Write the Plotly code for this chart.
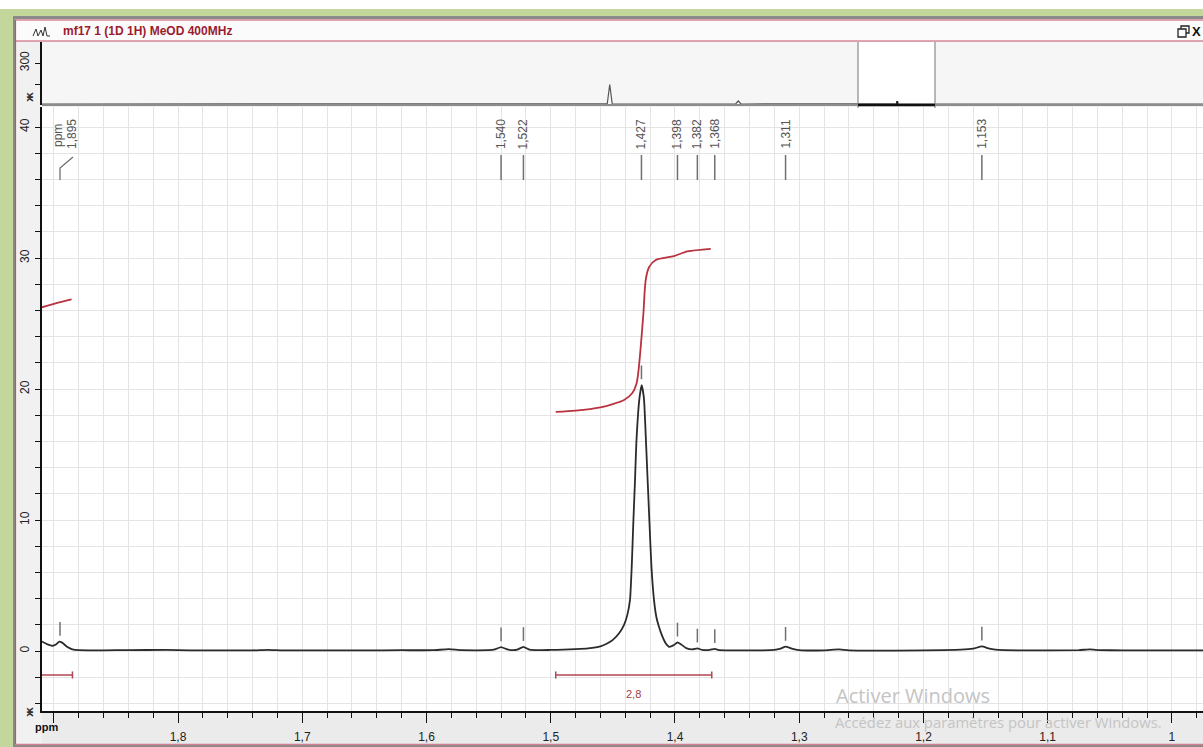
import plotly.graph_objects as go

W, H = 1203, 747

# ---- 1H spectrum, zoomed window (ppm, intensity) ----
ppm = [1.9095, 1.905, 1.901, 1.898, 1.8955, 1.893, 1.889, 1.885, 1.880, 1.86,
       1.84, 1.81, 1.79, 1.74, 1.728, 1.715, 1.65, 1.62, 1.595, 1.582, 1.572,
       1.55, 1.545, 1.540, 1.535, 1.530, 1.527, 1.522, 1.517, 1.510, 1.50,
       1.49, 1.48, 1.47, 1.46, 1.455, 1.450, 1.445, 1.441, 1.4385, 1.4362,
       1.4348, 1.4335, 1.4322, 1.4311, 1.4286, 1.4268, 1.4250, 1.4233, 1.4220,
       1.4206, 1.4190, 1.4169, 1.4150, 1.4129, 1.4105, 1.4075, 1.4045, 1.401,
       1.398, 1.395, 1.391, 1.386, 1.382, 1.378, 1.372, 1.368, 1.364, 1.35,
       1.32, 1.315, 1.311, 1.306, 1.300, 1.28, 1.268, 1.26, 1.20, 1.17, 1.16,
       1.153, 1.147, 1.14, 1.12, 1.075, 1.066, 1.058, 1.04, 0.975]
intensity = [0.72, 0.50, 0.40, 0.52, 0.72, 0.62, 0.30, 0.12, 0.06, 0.05,
             0.07, 0.08, 0.05, 0.05, 0.09, 0.05, 0.05, 0.06, 0.06, 0.14, 0.06,
             0.06, 0.12, 0.30, 0.12, 0.06, 0.10, 0.32, 0.10, 0.06, 0.08,
             0.10, 0.14, 0.20, 0.35, 0.55, 0.85, 1.35, 2.0, 2.7, 3.9,
             6.5, 9.9, 13.0, 15.9, 19.3, 20.3, 19.3, 15.9, 13.0,
             9.9, 6.5, 3.9, 2.6, 1.85, 1.2, 0.6, 0.32, 0.45,
             0.66, 0.50, 0.22, 0.12, 0.20, 0.08, 0.08, 0.16, 0.07, 0.05,
             0.08, 0.18, 0.33, 0.18, 0.07, 0.05, 0.12, 0.05, 0.05, 0.10, 0.18,
             0.35, 0.18, 0.08, 0.05, 0.07, 0.12, 0.07, 0.05, 0.05]

# ---- picked peaks ----
peak_ppm = [1.895, 1.540, 1.522, 1.427, 1.398, 1.382, 1.368, 1.311, 1.153]
peak_height = [0.72, 0.30, 0.32, 20.3, 0.66, 0.20, 0.16, 0.33, 0.35]

# ---- integral curves (ppm, running integral) ----
int1_ppm = [1.9095, 1.8965, 1.8857]
int1_val = [26.24, 26.6, 26.85]
int2_ppm = [1.496, 1.48, 1.46, 1.45, 1.441, 1.4343, 1.431, 1.4295, 1.4276,
            1.4254, 1.4236, 1.4209, 1.4155, 1.4008, 1.390, 1.3712]
int2_val = [18.25, 18.35, 18.6, 18.85, 19.16, 19.7, 20.4, 21.3, 23.2,
            25.8, 28.3, 29.3, 29.85, 30.15, 30.5, 30.7]

# ---- integral regions and values ----
region_from = [1.93, 1.496]
region_to = [1.885, 1.3704]
region_value = [None, 2.8]

# ---- full-range overview spectrum ----
ov_ppm = [11.81, 6.0, 5.0, 4.95, 4.92, 4.89, 4.84, 3.45, 3.39, 3.36, 3.33,
          3.27, 1.46, 1.435, 1.427, 1.419, 1.39, -2.28]
ov_val = [0, 0, 0, 2, 143, 2, 0, 0, 2, 22, 2, 0, 0, 2, 20, 2, 0, 0]

x_range = [1.9095, 0.975]
y_range = [-4.58, 41.53]
ov_x_range = [11.81, -2.28]
ov_y_range = [-7.3, 453.7]

x_ticks = [1.9, 1.8, 1.7, 1.6, 1.5, 1.4, 1.3, 1.2, 1.1, 1.0]
y_ticks = [0, 10, 20, 30, 40]

SPEC = "#2b2b2b"
RED = "#b8323f"
FONT = "Liberation Sans"


def px(x):
    return x / W


def py(y):
    return 1 - y / H


def fmt(v, nd):
    s = f"{v:.{nd}f}".rstrip("0").rstrip(".") if nd == 1 else f"{v:.{nd}f}"
    return s.replace(".", ",")


fig = go.Figure()

# spectrum
fig.add_trace(go.Scatter(x=ppm, y=intensity, mode="lines",
                         line=dict(color=SPEC, width=1.8, shape="spline", smoothing=0.45),
                         xaxis="x", yaxis="y", hoverinfo="skip"))

# integral curves
for xs, ys in [(int1_ppm, int1_val), (int2_ppm, int2_val)]:
    fig.add_trace(go.Scatter(x=xs, y=ys, mode="lines",
                             line=dict(color=RED, width=1.8, shape="spline", smoothing=0.8),
                             xaxis="x", yaxis="y", hoverinfo="skip"))

# peak markers just above each picked peak
mx, my = [], []
for p, h in zip(peak_ppm, peak_height):
    mx += [p, p, None]
    my += [h + 0.45, h + 1.5, None]
fig.add_trace(go.Scatter(x=mx, y=my, mode="lines", line=dict(color="#707070", width=1.5),
                         xaxis="x", yaxis="y", hoverinfo="skip"))

# integral bars
bar_y, cap = -1.83, 0.27
for a, b, v in zip(region_from, region_to, region_value):
    fig.add_trace(go.Scatter(x=[a, a, None, a, b, None, b, b],
                             y=[bar_y - cap, bar_y + cap, None, bar_y, bar_y, None,
                                bar_y - cap, bar_y + cap],
                             mode="lines", line=dict(color="#b04652", width=1.5),
                             xaxis="x", yaxis="y", hoverinfo="skip"))

# overview spectrum
fig.add_trace(go.Scatter(x=ov_ppm, y=ov_val, mode="lines", line=dict(color="#555555", width=1.2),
                         xaxis="x2", yaxis="y2", hoverinfo="skip"))

shapes = []
ann = []

def rect(x0, y0, x1, y1, fill, line=None, lw=0, layer="below"):
    shapes.append(dict(type="rect", xref="paper", yref="paper",
                       x0=px(x0), x1=px(x1), y0=py(y1), y1=py(y0),
                       fillcolor=fill, line=dict(color=line or fill, width=lw), layer=layer))

def hline(x0, x1, y, color, w, layer="above"):
    shapes.append(dict(type="line", xref="paper", yref="paper", x0=px(x0), x1=px(x1),
                       y0=py(y), y1=py(y), line=dict(color=color, width=w), layer=layer))

def vline(x, y0, y1, color, w, layer="above"):
    shapes.append(dict(type="line", xref="paper", yref="paper", x0=px(x), x1=px(x),
                       y0=py(y0), y1=py(y1), line=dict(color=color, width=w), layer=layer))

# window frame
rect(-5, 9, 1215, 760, "#c3d69b")
rect(13, 16, 1215, 760, "#8a8a8a")
rect(15, 19, 1215, 745, "#f1f1f1")
rect(15, 20, 1215, 41, "#fbfbfb")
hline(15, 1215, 20, "#c8506a", 1.2)
hline(15, 1215, 41, "#c8506a", 1.2)
vline(15.5, 20, 745, "#c8506a", 1.2)
hline(15, 1215, 744.5, "#d08090", 1.5)
# overview strip
rect(42, 42, 1215, 105, "#f6f6f6")
rect(858, 42, 935, 106, "#ffffff")
# main plot and bottom axis band
rect(42, 107, 1215, 711, "#ffffff")
rect(42, 711, 1215, 744, "#ebebeb")

vline(858, 42, 108, "#8a8a8a", 1.2)
vline(935, 42, 108, "#8a8a8a", 1.2)
hline(42, 1215, 105, "#8c8c8c", 2)
hline(858, 935, 105, "#111111", 2.5)
vline(897, 101, 105, "#111111", 1.5)

# title bar icon: tiny spectrum glyph
shapes.append(dict(type="path", xref="paper", yref="paper",
                   path=("M {} {} L {} {} L {} {} L {} {} L {} {} L {} {} L {} {} L {} {}".format(
                       px(33), py(36), px(36), py(29), px(38), py(36), px(41), py(30),
                       px(43), py(36), px(45), py(27), px(47), py(36), px(50), py(36))),
                   line=dict(color="#333333", width=1)))
# window buttons
rect(1181, 26, 1189, 33, "rgba(0,0,0,0)", "#222222", 1.3, layer="above")
rect(1178, 29, 1186, 37, "#fbfbfb", "#222222", 1.3, layer="above")
ann.append(dict(text="<b>X</b>", x=px(1190), y=py(31.5), xref="paper", yref="paper",
                xanchor="left", yanchor="middle", showarrow=False,
                font=dict(family=FONT, size=13, color="#111111")))

ann.append(dict(text="<b>mf17 1 (1D 1H) MeOD 400MHz</b>", x=px(61), y=py(31), xref="paper",
                yref="paper", xanchor="left", yanchor="middle", showarrow=False,
                font=dict(family=FONT, size=12, color="#9b1b30")))

# peak labels along the top
lab_top, lab_bot = 155, 180
for p in peak_ppm:
    txt = fmt(p, 3)
    if p == peak_ppm[0]:
        shift = 12
        shapes.append(dict(type="path", xref="x", yref="paper",
                           path="M {} {} L {} {} L {} {}".format(
                               p, py(lab_bot), p, py(168), p - 13 / 1242.5, py(157)),
                           line=dict(color="#707070", width=1.3)))
    else:
        shift = 0
        shapes.append(dict(type="line", xref="x", yref="paper", x0=p, x1=p,
                           y0=py(lab_bot), y1=py(lab_top), line=dict(color="#707070", width=1.5)))
    ann.append(dict(text=txt, x=p, y=py(134), xref="x", yref="paper", xshift=shift,
                    textangle=-90, showarrow=False, xanchor="center", yanchor="middle",
                    font=dict(family=FONT, size=12, color="#555555")))
ann.append(dict(text="ppm", x=px(58), y=py(136), xref="paper", yref="paper", textangle=-90,
                xanchor="center", yanchor="middle", showarrow=False,
                font=dict(family=FONT, size=12, color="#555555")))

# integral values
for a, b, v in zip(region_from, region_to, region_value):
    if v is not None:
        ann.append(dict(text=fmt(v, 1), x=(a + b) / 2, y=-3.3, xref="x", yref="y",
                        showarrow=False, font=dict(family=FONT, size=11, color="#a0404a")))

# axis corner labels
ann.append(dict(text="<b>ppm</b>", x=px(46), y=py(727), xref="paper", yref="paper",
                xanchor="center", yanchor="middle", showarrow=False,
                font=dict(family=FONT, size=11, color="#111111")))
for yy in (97, 712):
    ann.append(dict(text="<b>ж</b>", x=px(29), y=py(yy), xref="paper", yref="paper",
                    xanchor="center", yanchor="middle", textangle=-90, showarrow=False,
                    font=dict(family="DejaVu Sans", size=10, color="#333333")))

# activation watermark
ann.append(dict(text="Activer Windows", x=px(834), y=py(695), xref="paper", yref="paper",
                xanchor="left", yanchor="middle", showarrow=False,
                font=dict(family="Open Sans", size=20, color="#c4c4c4")))
ann.append(dict(text="Accédez aux paramètres pour activer Windows.", x=px(833), y=py(722),
                xref="paper", yref="paper", xanchor="left", yanchor="middle", showarrow=False,
                font=dict(family="Open Sans", size=14.8, color="#c4c4c4")))

grid = "#e4e4e4"
fig.update_layout(
    width=W, height=H, margin=dict(l=0, r=0, t=0, b=0),
    paper_bgcolor="#ffffff", plot_bgcolor="rgba(0,0,0,0)",
    showlegend=False, separators=", ",
    shapes=shapes, annotations=ann,
    xaxis=dict(domain=[px(42), 1], range=x_range, anchor="y",
               tickvals=x_ticks, ticktext=["" if t == 1.9 else fmt(t, 1) for t in x_ticks],
               ticks="outside", ticklen=10, tickwidth=1, tickcolor="#111111",
               showline=True, linecolor="#111111", linewidth=1.5,
               showgrid=True, gridcolor=grid, gridwidth=1, zeroline=False,
               ticklabelstandoff=4,
               tickfont=dict(family=FONT, size=12, color="#222222"),
               minor=dict(dtick=0.02, ticks="outside", ticklen=5, tickcolor="#111111",
                          showgrid=True, gridcolor=grid)),
    yaxis=dict(domain=[py(711), py(107)], range=y_range, anchor="x",
               tickvals=y_ticks, ticks="outside", ticklen=5, tickcolor="#111111",
               tickangle=-90, showline=True, linecolor="#111111", linewidth=1.5,
               showgrid=True, gridcolor=grid, zeroline=False, ticklabelstandoff=1,
               tickfont=dict(family=FONT, size=12, color="#222222"),
               minor=dict(dtick=2, ticks="outside", ticklen=5, tickcolor="#111111",
                          showgrid=True, gridcolor=grid)),
    xaxis2=dict(domain=[px(42), 1], range=ov_x_range, anchor="y2",
                showticklabels=False, ticks="", showgrid=False, zeroline=False, showline=False),
    yaxis2=dict(domain=[py(105), py(42)], range=ov_y_range, anchor="x2",
                tickvals=[140, 300], ticktext=["", "300"], ticks="outside", ticklen=5,
                tickcolor="#111111", tickangle=-90, showline=True, linecolor="#111111",
                linewidth=1.5, showgrid=False, zeroline=False, ticklabelstandoff=1,
                tickfont=dict(family=FONT, size=12, color="#222222")),
)

fig.write_html("out.html", config={"displayModeBar": False})
